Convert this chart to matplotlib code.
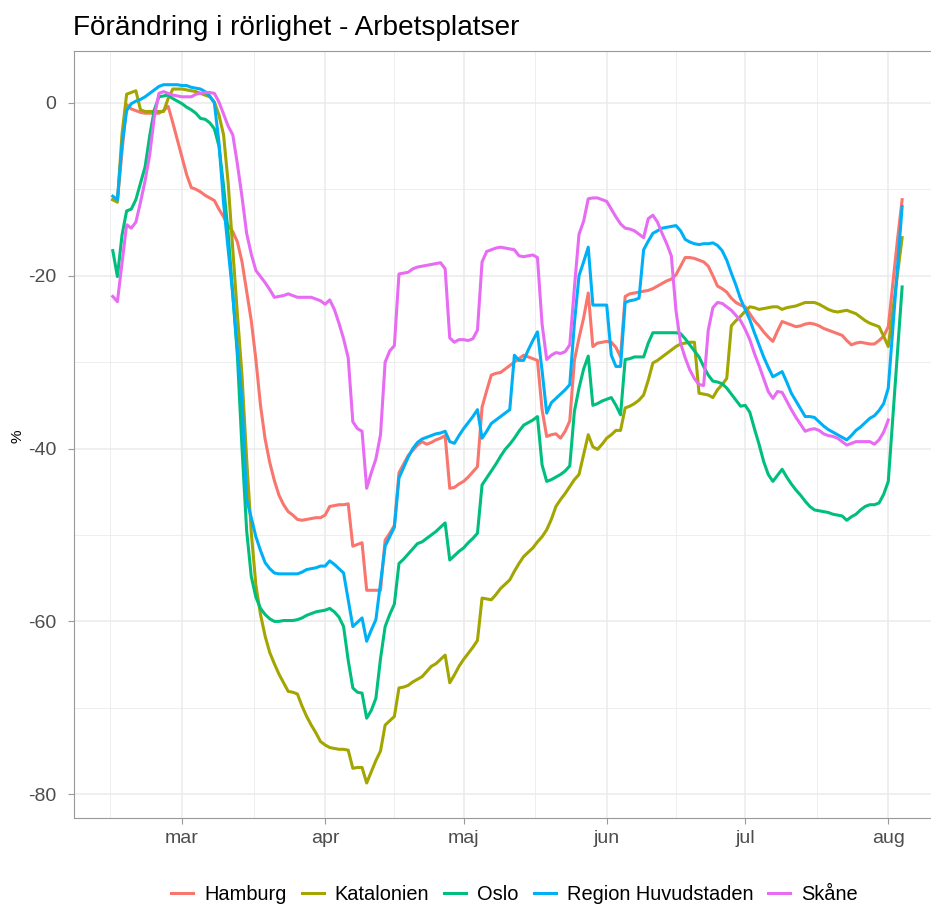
import pandas as pd
import numpy as np
import matplotlib
matplotlib.use("Agg")
import matplotlib.pyplot as plt

plt.rcParams['font.family'] = ['Liberation Sans', 'DejaVu Sans']

# Daily values (7-day centred mean, % change vs baseline) from 2020-02-15
start_date = "2020-02-15"

hamburg = [
    -11.2, -11.4, -5.6, -0.2, -0.7, -0.9, -1.1, -1.2, -1.2, -1.2,
    -1.2, -0.9, -0.4, -2.3, -4.3, -6.3, -8.3, -9.8, -10.0, -10.3,
    -10.7, -11.0, -11.3, -12.3, -13.2, -14.2, -14.9, -16.1, -18.4, -21.8,
    -25.2, -29.7, -35.0, -38.9, -41.6, -43.7, -45.4, -46.5, -47.3, -47.7,
    -48.2, -48.3, -48.2, -48.1, -48.0, -48.0, -47.7, -46.7, -46.6, -46.5,
    -46.5, -46.4, -51.3, -51.1, -50.9, -56.4, -56.4, -56.4, -56.4, -50.6,
    -49.8, -48.9, -42.8, -41.8, -40.8, -40.2, -39.6, -39.2, -39.5, -39.3,
    -39.0, -38.8, -38.5, -44.6, -44.5, -44.1, -43.8, -43.3, -42.7, -42.1,
    -35.2, -33.3, -31.5, -31.3, -31.2, -30.8, -30.4, -30.0, -29.6, -29.2,
    -29.4, -29.6, -29.8, -35.5, -38.6, -38.4, -38.3, -38.8, -38.0, -36.8,
    -29.8, -27.2, -24.9, -22.0, -28.2, -27.8, -27.7, -27.6, -27.7, -28.3,
    -29.4, -22.4, -22.1, -22.0, -21.9, -21.8, -21.7, -21.5, -21.2, -20.9,
    -20.6, -20.4, -19.9, -18.9, -17.9, -17.9, -18.0, -18.2, -18.4, -18.9,
    -20.0, -21.2, -21.5, -21.9, -22.6, -23.1, -23.4, -23.6, -24.4, -25.2,
    -25.8, -26.5, -27.1, -27.6, -26.4, -25.3, -25.5, -25.7, -25.9, -25.8,
    -25.6, -25.5, -25.6, -25.8, -26.1, -26.3, -26.5, -26.7, -26.9, -27.5,
    -28.0, -27.8, -27.7, -27.8, -27.9, -27.9, -27.5, -27.0, -25.9, -20.8,
    -15.8, -11.2,
]

katalonien = [
    -11.2, -11.5, -3.6, 1.0, 1.2, 1.4, -0.8, -1.0, -1.0, -1.0,
    -1.0, -1.0, 0.5, 1.6, 1.6, 1.6, 1.5, 1.4, 1.3, 1.1,
    0.9, 0.7, 0.1, -1.4, -3.7, -9.3, -17.0, -24.5, -31.6, -41.2,
    -49.7, -55.8, -59.2, -61.7, -63.6, -64.9, -66.1, -67.1, -68.1, -68.2,
    -68.4, -69.8, -71.0, -72.0, -72.9, -73.9, -74.3, -74.6, -74.7, -74.8,
    -74.8, -74.9, -77.0, -76.9, -76.9, -78.7, -77.4, -76.1, -75.0, -72.0,
    -71.5, -71.0, -67.7, -67.6, -67.4, -67.0, -66.7, -66.4, -65.8, -65.2,
    -64.9, -64.4, -63.9, -67.1, -66.2, -65.2, -64.4, -63.7, -63.0, -62.2,
    -57.3, -57.4, -57.5, -56.9, -56.2, -55.7, -55.2, -54.2, -53.3, -52.5,
    -52.0, -51.5, -50.8, -50.2, -49.4, -48.2, -46.7, -45.9, -45.2, -44.4,
    -43.6, -43.0, -40.7, -38.4, -39.8, -40.1, -39.5, -38.8, -38.4, -37.9,
    -37.9, -35.3, -35.1, -34.8, -34.4, -33.8, -32.1, -30.1, -29.8, -29.4,
    -29.0, -28.6, -28.2, -27.9, -27.8, -27.7, -27.7, -33.6, -33.7, -33.8,
    -34.1, -33.2, -32.6, -31.9, -25.8, -25.2, -24.7, -24.1, -23.6, -23.7,
    -23.9, -23.8, -23.7, -23.6, -23.6, -23.9, -23.7, -23.6, -23.5, -23.3,
    -23.1, -23.1, -23.1, -23.3, -23.6, -23.9, -24.1, -24.2, -24.1, -24.0,
    -24.2, -24.4, -24.8, -25.2, -25.5, -25.7, -25.9, -27.0, -28.2, -24.0,
    -19.8, -15.6,
]

oslo = [
    -17.1, -20.1, -15.3, -12.5, -12.3, -11.2, -9.3, -7.4, -3.8, -0.8,
    0.7, 0.8, 0.9, 0.5, 0.2, -0.1, -0.5, -0.8, -1.2, -1.8,
    -1.9, -2.3, -3.0, -5.0, -9.6, -15.1, -22.2, -29.3, -40.0, -49.5,
    -54.8, -57.2, -58.5, -59.2, -59.7, -60.0, -60.0, -59.9, -59.9, -59.9,
    -59.8, -59.6, -59.3, -59.1, -58.9, -58.8, -58.7, -58.5, -58.9, -59.5,
    -60.6, -64.5, -67.7, -68.2, -68.3, -71.2, -70.3, -68.9, -64.3, -60.6,
    -59.2, -58.0, -53.3, -52.8, -52.2, -51.6, -51.0, -50.8, -50.4, -50.0,
    -49.6, -49.1, -48.6, -52.9, -52.4, -51.9, -51.5, -50.9, -50.4, -49.8,
    -44.2, -43.4, -42.6, -41.8, -40.9, -40.1, -39.5, -38.8, -38.0, -37.3,
    -37.0, -36.7, -36.3, -41.9, -43.8, -43.6, -43.3, -43.0, -42.6, -42.0,
    -35.7, -33.0, -30.8, -29.3, -35.0, -34.8, -34.5, -34.3, -34.1, -35.0,
    -36.1, -29.7, -29.6, -29.4, -29.4, -29.4, -27.8, -26.6, -26.6, -26.6,
    -26.6, -26.6, -26.6, -26.7, -27.3, -28.0, -28.7, -29.4, -30.5, -31.5,
    -32.2, -32.3, -32.5, -33.0, -33.7, -34.4, -35.1, -35.0, -35.8, -37.7,
    -39.5, -41.5, -43.0, -43.8, -43.1, -42.4, -43.3, -44.1, -44.8, -45.4,
    -46.1, -46.7, -47.1, -47.2, -47.3, -47.4, -47.6, -47.7, -47.8, -48.3,
    -47.9, -47.6, -47.1, -46.7, -46.5, -46.5, -46.3, -45.3, -43.8, -36.3,
    -28.8, -21.3,
]

region_huvudstaden = [
    -10.8, -11.2, -4.8, -0.9, -0.1, 0.2, 0.4, 0.7, 1.1, 1.5,
    1.9, 2.1, 2.1, 2.1, 2.1, 2.0, 2.0, 1.8, 1.7, 1.6,
    1.3, 0.8, 0.0, -4.6, -11.6, -17.0, -22.2, -28.6, -34.5, -45.9,
    -48.0, -50.2, -51.8, -53.2, -53.9, -54.4, -54.5, -54.5, -54.5, -54.5,
    -54.5, -54.3, -54.0, -53.9, -53.8, -53.6, -53.6, -53.0, -53.4, -53.9,
    -54.4, -57.5, -60.6, -60.1, -59.6, -62.3, -61.0, -59.8, -55.5, -51.3,
    -50.2, -49.1, -43.4, -42.2, -41.0, -40.0, -39.3, -38.9, -38.7, -38.5,
    -38.3, -38.2, -38.0, -39.2, -39.4, -38.5, -37.7, -37.0, -36.3, -35.5,
    -38.8, -38.0, -37.1, -36.7, -36.3, -35.9, -35.5, -29.2, -29.8, -29.8,
    -28.6, -27.5, -26.5, -31.0, -35.9, -34.7, -34.2, -33.7, -33.2, -32.6,
    -25.5, -20.0, -18.4, -16.7, -23.4, -23.4, -23.4, -23.4, -29.2, -30.5,
    -30.5, -23.1, -22.9, -22.8, -22.6, -17.0, -16.0, -15.1, -14.8, -14.5,
    -14.4, -14.3, -14.2, -14.8, -15.8, -16.1, -16.3, -16.4, -16.3, -16.3,
    -16.2, -16.5, -17.1, -18.2, -19.7, -21.1, -22.7, -23.9, -25.1, -26.6,
    -28.0, -29.4, -30.6, -31.7, -31.4, -31.1, -32.3, -33.6, -34.5, -35.4,
    -36.3, -36.3, -36.4, -36.9, -37.4, -37.8, -38.1, -38.4, -38.7, -39.0,
    -38.5, -37.9, -37.5, -37.0, -36.5, -36.2, -35.6, -34.8, -33.0, -26.0,
    -18.9, -12.0,
]

# Skåne stops three days earlier (2020-08-01)
skane = [
    -22.4, -23.0, -18.5, -14.1, -14.5, -13.8, -11.5, -9.0, -6.0, -1.6,
    1.1, 1.3, 1.1, 0.9, 0.8, 0.7, 0.7, 0.7, 1.0, 1.1,
    1.2, 1.2, 1.1, 0.1, -1.3, -2.7, -3.7, -7.1, -10.9, -15.1,
    -17.5, -19.4, -20.1, -20.8, -21.6, -22.5, -22.4, -22.3, -22.1, -22.3,
    -22.5, -22.5, -22.5, -22.5, -22.7, -22.9, -23.3, -22.8, -23.9, -25.5,
    -27.3, -29.5, -36.9, -37.7, -38.0, -44.6, -42.8, -41.2, -38.4, -30.0,
    -28.7, -28.1, -19.8, -19.7, -19.6, -19.2, -19.0, -18.9, -18.8, -18.7,
    -18.6, -18.5, -19.2, -27.2, -27.7, -27.4, -27.4, -27.5, -27.3, -26.3,
    -18.4, -17.2, -17.0, -16.8, -16.7, -16.8, -16.9, -17.0, -17.7, -17.8,
    -17.7, -17.6, -17.9, -25.6, -29.7, -29.2, -28.9, -29.0, -28.8, -28.0,
    -21.4, -15.2, -13.7, -11.1, -11.0, -11.0, -11.2, -11.4, -12.3, -13.2,
    -14.0, -14.5, -14.6, -14.8, -15.2, -15.6, -13.4, -13.0, -13.8, -15.1,
    -16.3, -17.7, -24.0, -27.8, -29.5, -30.9, -31.9, -32.6, -32.7, -26.3,
    -23.7, -23.1, -23.2, -23.6, -24.0, -24.6, -25.2, -26.2, -27.4, -29.0,
    -30.4, -31.9, -33.4, -34.2, -33.4, -33.5, -34.5, -35.5, -36.4, -37.2,
    -38.0, -37.8, -37.7, -37.9, -38.3, -38.5, -38.6, -38.8, -39.2, -39.6,
    -39.4, -39.2, -39.2, -39.2, -39.2, -39.5, -39.0, -38.1, -36.7,
]

series_names = ["Hamburg", "Katalonien", "Oslo", "Region Huvudstaden", "Skåne"]
series_values = [hamburg, katalonien, oslo, region_huvudstaden, skane]
series_colors = ["#F8766D", "#A3A500", "#00BF7D", "#00B0F6", "#E76BF3"]

month_ticks = ["2020-03-01", "2020-04-01", "2020-05-01", "2020-06-01", "2020-07-01", "2020-08-01"]
month_labels = ["mar", "apr", "maj", "jun", "jul", "aug"]
y_ticks = [-80, -60, -40, -20, 0]
y_minor = [-70, -50, -30, -10]

dates = pd.date_range(start_date, periods=len(hamburg))

W, H = 931, 907
fig = plt.figure(figsize=(W / 100, H / 100), dpi=100)
ax = fig.add_axes([73.5 / W, (H - 818) / H, 868.1 / W, 767 / H])

for name, vals, col in zip(series_names, series_values, series_colors):
    ax.plot(dates[:len(vals)], vals, color=col, lw=2.2, label=name, solid_joinstyle='round')

# axes limits (ggplot style 5% expansion)
t0 = pd.Timestamp(start_date)
ax.set_xlim(t0 - pd.Timedelta(days=8.51), t0 + pd.Timedelta(days=179.55))
ax.set_ylim(-82.75, 6.0)

major_x = pd.to_datetime(month_ticks)
minor_x = [major_x[0] - pd.Timedelta(days=15.5)]
minor_x += [major_x[i] + (major_x[i + 1] - major_x[i]) / 2 for i in range(len(major_x) - 1)]
ax.set_xticks(major_x)
ax.set_xticklabels(month_labels)
ax.set_xticks(minor_x, minor=True)
ax.set_yticks(y_ticks)
ax.set_yticklabels([str(v) for v in y_ticks])
ax.set_yticks(y_minor, minor=True)

ax.grid(which='major', color='#EBEBEB', lw=1.1)
ax.grid(which='minor', color='#EBEBEB', lw=0.6)
ax.set_axisbelow(True)

for side in ['left', 'top', 'bottom', 'right']:
    ax.spines[side].set_color('#999999')
    ax.spines[side].set_linewidth(0.8)

ax.tick_params(which='major', length=4, width=0.8, color='#999999',
               labelsize=14, labelcolor='#4D4D4D')
ax.tick_params(axis='x', pad=4.8)
ax.tick_params(axis='y', pad=8.5)
ax.tick_params(which='minor', length=0)

fig.text(73 / W, (H - 35) / H, "Förändring i rörlighet - Arbetsplatser",
         fontsize=20.2, ha='left', va='baseline', color='black')
fig.text(17 / W, (H - 436) / H, "%", fontsize=11, rotation=90,
         ha='center', va='center', color='black')

fig.legend(loc='center', bbox_to_anchor=(514.5 / W, (H - 894) / H), ncol=5,
           frameon=False, fontsize=14.4, handlelength=1.1, handletextpad=0.55,
           columnspacing=0.75, borderpad=0, borderaxespad=0)

fig.savefig("out.png", dpi=100)
